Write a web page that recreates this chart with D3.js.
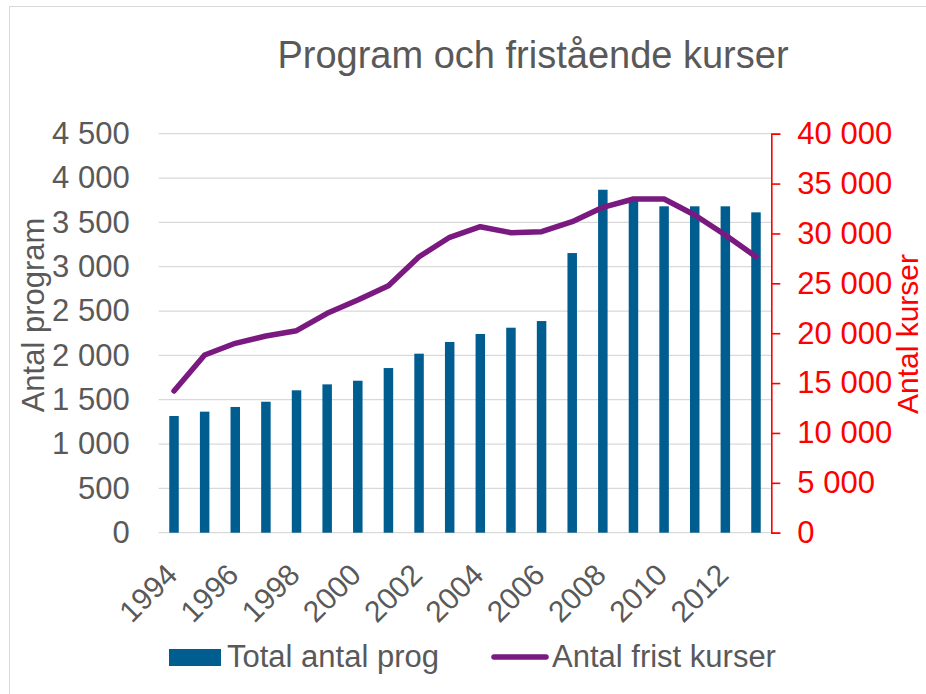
<!DOCTYPE html>
<html>
<head>
<meta charset="utf-8">
<script src="https://cdn.jsdelivr.net/npm/d3@7"></script>
<style>
  body { margin: 0; background: #fff; }
  svg { font-family: 'Liberation Sans', Arial, sans-serif; }
</style>
</head>
<body>
<div id="chart"></div>
<script>
const years = [1994, 1995, 1996, 1997, 1998, 1999, 2000, 2001, 2002, 2003,
  2004, 2005, 2006, 2007, 2008, 2009, 2010, 2011, 2012, 2013];
const totalProgram = [1316, 1365, 1418, 1477, 1606, 1673, 1714, 1857, 2019, 2151,
  2241, 2312, 2387, 3154, 3868, 3760, 3681, 3681, 3681, 3613];
const fristKurser = [14205, 17815, 18987, 19719, 20250, 21995, 23328, 24762, 27669, 29614,
  30676, 30075, 30175, 31178, 32622, 33454, 33454, 31850, 29845, 27669];
const leftTicks = [0, 500, 1000, 1500, 2000, 2500, 3000, 3500, 4000, 4500];
const rightTicks = [0, 5000, 10000, 15000, 20000, 25000, 30000, 35000, 40000];
const yearLabels = [1994, 1996, 1998, 2000, 2002, 2004, 2006, 2008, 2010, 2012];

const width = 926;
const height = 694;
const plot = { left: 158.7, right: 771.3, top: 133.7, bottom: 532.7 };

const gray = '#595959';
const barColor = '#005d8f';
const lineColor = '#7a1a80';

const locale = d3.formatLocale({ decimal: ',', thousands: '\u00a0', grouping: [3], currency: ['', ' kr'] });
const fmt = locale.format(',');

const svg = d3.select('#chart').append('svg')
  .attr('width', width)
  .attr('height', height);

// chart frame (only left and top edge are inside the picture)
svg.append('rect')
  .attr('x', 9.5).attr('y', 6.5)
  .attr('width', 1000).attr('height', 1000)
  .attr('fill', 'none')
  .attr('stroke', '#d9d9d9');

const x = d3.scaleBand()
  .domain(years)
  .range([plot.left, plot.right])
  .paddingInner(0.69)
  .paddingOuter(0.345);

const yLeft = d3.scaleLinear().domain([0, 4500]).range([plot.bottom, plot.top]);
const yRight = d3.scaleLinear().domain([0, 40000]).range([plot.bottom, plot.top]);

// gridlines
svg.append('g').selectAll('line')
  .data(leftTicks)
  .enter()
  .append('line')
  .attr('x1', plot.left)
  .attr('x2', plot.right)
  .attr('y1', d => yLeft(d))
  .attr('y2', d => yLeft(d))
  .attr('stroke', '#d9d9d9')
  .attr('stroke-width', 1.3);

// left axis, labels only
const leftAxis = svg.append('g')
  .attr('transform', `translate(${plot.left},0)`)
  .call(d3.axisLeft(yLeft).tickValues(leftTicks).tickFormat(fmt).tickSize(0).tickPadding(29));
leftAxis.select('.domain').remove();
leftAxis.selectAll('text')
  .attr('fill', gray)
  .attr('font-size', 31)
  .attr('font-family', "'Liberation Sans', Arial, sans-serif");

// right axis in red
const rightAxis = svg.append('g')
  .attr('transform', `translate(${plot.right},0)`)
  .call(d3.axisRight(yRight).tickValues(rightTicks).tickFormat(fmt).tickSize(9).tickSizeOuter(9).tickPadding(17));
rightAxis.select('.domain').attr('stroke', '#ff0000').attr('stroke-width', 1.6);
rightAxis.selectAll('.tick line').attr('stroke', '#ff0000').attr('stroke-width', 1.6);
rightAxis.selectAll('text')
  .attr('fill', '#ff0000')
  .attr('font-size', 31)
  .attr('font-family', "'Liberation Sans', Arial, sans-serif");

// bars
svg.append('g').selectAll('rect')
  .data(years)
  .enter()
  .append('rect')
  .attr('x', d => x(d))
  .attr('width', x.bandwidth())
  .attr('y', (d, i) => yLeft(totalProgram[i]))
  .attr('height', (d, i) => yLeft(0) - yLeft(totalProgram[i]))
  .attr('fill', barColor);

// line
const line = d3.line()
  .x(d => x(d.year) + x.bandwidth() / 2)
  .y(d => yRight(d.value));

svg.append('path')
  .datum(years.map((y, i) => ({ year: y, value: fristKurser[i] })))
  .attr('d', line)
  .attr('fill', 'none')
  .attr('stroke', lineColor)
  .attr('stroke-width', 5.5)
  .attr('stroke-linejoin', 'round')
  .attr('stroke-linecap', 'round');

// x labels, rotated
const xAxis = svg.append('g')
  .attr('transform', `translate(0,${plot.bottom})`)
  .call(d3.axisBottom(x).tickValues(yearLabels).tickSize(0).tickPadding(0));
xAxis.select('.domain').remove();
xAxis.selectAll('text')
  .attr('fill', gray)
  .attr('font-size', 30)
  .attr('font-family', "'Liberation Sans', Arial, sans-serif")
  .attr('text-anchor', 'end')
  .attr('dy', null)
  .attr('y', null)
  .attr('transform', 'translate(5,44) rotate(-45)');

// title
svg.append('text')
  .attr('x', 533)
  .attr('y', 68)
  .attr('text-anchor', 'middle')
  .attr('fill', gray)
  .attr('font-size', 38)
  .text('Program och fristående kurser');

// axis titles
svg.append('text')
  .attr('transform', 'translate(44,315) rotate(-90)')
  .attr('text-anchor', 'middle')
  .attr('fill', gray)
  .attr('font-size', 31)
  .text('Antal program');

svg.append('text')
  .attr('transform', 'translate(918,334) rotate(-90)')
  .attr('text-anchor', 'middle')
  .attr('fill', '#ff0000')
  .attr('font-size', 30)
  .text('Antal kurser');

// legend
const legend = svg.append('g');
legend.append('rect')
  .attr('x', 169).attr('y', 649)
  .attr('width', 52).attr('height', 17)
  .attr('fill', barColor);
legend.append('text')
  .attr('x', 227).attr('y', 667)
  .attr('fill', gray)
  .attr('font-size', 31)
  .text('Total antal prog');
legend.append('line')
  .attr('x1', 494).attr('x2', 546)
  .attr('y1', 657).attr('y2', 657)
  .attr('stroke', lineColor)
  .attr('stroke-width', 5.5)
  .attr('stroke-linecap', 'round');
legend.append('text')
  .attr('x', 552).attr('y', 667)
  .attr('fill', gray)
  .attr('font-size', 31)
  .text('Antal frist kurser');
</script>
</body>
</html>
